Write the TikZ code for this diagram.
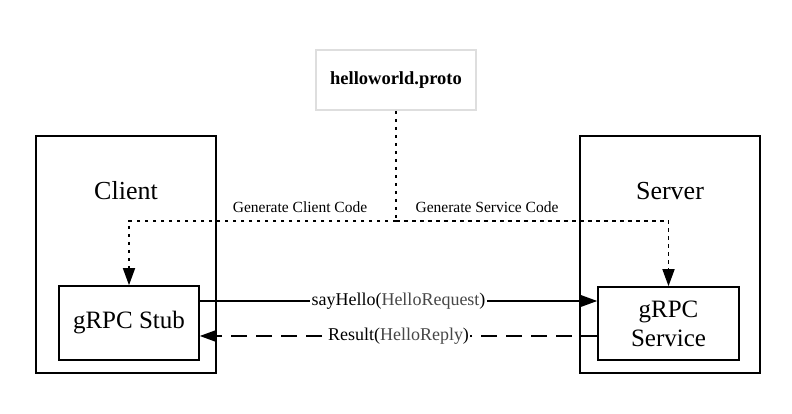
\documentclass[tikz,border=0pt]{standalone}
\usepackage{fontspec}
\setmainfont{Liberation Serif}
\usetikzlibrary{arrows.meta,positioning}
\definecolor{argtext}{gray}{0.28}
\definecolor{protoline}{gray}{0.87}
\tikzset{
	hostbox/.style={draw, line width=1.6pt, minimum width=180pt, minimum height=237pt},
	partbox/.style={draw, line width=1.6pt, minimum width=140pt, minimum height=74pt, align=center, font=\fontsize{25}{29}\selectfont},
	protobox/.style={draw=protoline, line width=1.6pt, minimum width=160pt, minimum height=60pt, font=\fontsize{18.5}{21}\selectfont\bfseries},
	hostlabel/.style={font=\fontsize{26}{29}\selectfont},
	genlabel/.style={font=\fontsize{15.5}{18}\selectfont},
	msglabel/.style={midway, fill=white, inner sep=1.5pt, font=\fontsize{18}{21}\selectfont},
	genline/.style={line width=1.6pt, dash pattern=on 3.5pt off 4.5pt},
	callline/.style={line width=1.6pt, -{Triangle[length=17pt,width=12pt]}},
	replyline/.style={line width=1.6pt, dash pattern=on 16pt off 9pt, -{Triangle[length=17pt,width=12pt]}},
}
\begin{document}
\begin{tikzpicture}
	\useasboundingbox (0,0) rectangle (792pt,414pt);
	
	\node [protobox] (proto) at (396pt,334pt) {helloworld.proto};
	\node [hostbox] (client) at (126pt,159.5pt) {};
	\node [hostbox] (server) at (670pt,159.5pt) {};
	\node [hostlabel] (clientname) at (126pt,223pt) {Client};
	\node [hostlabel] (servername) at (670pt,223pt) {Server};
	\node [partbox] (stub) at (129pt,91pt) {gRPC Stub};
	\node [partbox, minimum width=141pt, minimum height=73pt] (service) at (668.5pt,90.5pt) {gRPC\\Service};
	\coordinate (split) at (396pt,193pt);
	\node [genlabel] (genclient) at (300pt,207pt) {Generate Client Code};
	\node [genlabel] (genservice) at (487pt,207pt) {Generate Service Code};
	
	\draw [genline] (proto.south) -- (split);
	\draw [genline, -{Triangle[length=17pt,width=12pt]}] (split) -| (stub.north);
	\draw [genline, -{Triangle[length=17pt,width=12pt]}] (split) -| (service.north);
	
	\draw [callline] ([yshift=22pt]stub.east) -- ([yshift=22pt]stub.east -| service.west)
		node [msglabel] {sayHello(\textcolor{argtext}{HelloRequest})};
	\draw [replyline] ([yshift=-13pt]stub.east -| service.west) -- ([yshift=-13pt]stub.east)
		node [msglabel] {Result(\textcolor{argtext}{HelloReply})};
\end{tikzpicture}
\end{document}
